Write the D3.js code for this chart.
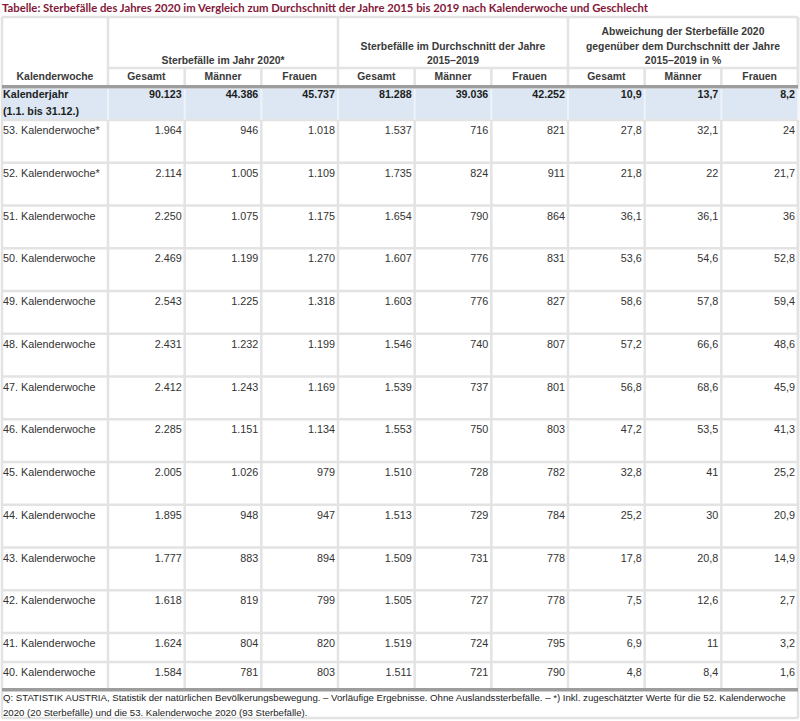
<!DOCTYPE html>
<html>
<head>
<meta charset="utf-8">
<script src="https://cdn.jsdelivr.net/npm/d3@7"></script>
<style>
  body { margin: 0; background: #fff; }
  svg { display: block; }
</style>
</head>
<body>
<svg id="table"></svg>
<script>
// data (Statistik Austria, weeks 53 down to 40)
let weeks = ["53. Kalenderwoche*", "52. Kalenderwoche*", "51. Kalenderwoche", "50. Kalenderwoche",
  "49. Kalenderwoche", "48. Kalenderwoche", "47. Kalenderwoche", "46. Kalenderwoche",
  "45. Kalenderwoche", "44. Kalenderwoche", "43. Kalenderwoche", "42. Kalenderwoche",
  "41. Kalenderwoche", "40. Kalenderwoche"];
let total2020 = [1964, 2114, 2250, 2469, 2543, 2431, 2412, 2285, 2005, 1895, 1777, 1618, 1624, 1584];
let men2020 = [946, 1005, 1075, 1199, 1225, 1232, 1243, 1151, 1026, 948, 883, 819, 804, 781];
let women2020 = [1018, 1109, 1175, 1270, 1318, 1199, 1169, 1134, 979, 947, 894, 799, 820, 803];
let totalAvg = [1537, 1735, 1654, 1607, 1603, 1546, 1539, 1553, 1510, 1513, 1509, 1505, 1519, 1511];
let menAvg = [716, 824, 790, 776, 776, 740, 737, 750, 728, 729, 731, 727, 724, 721];
let womenAvg = [821, 911, 864, 831, 827, 807, 801, 803, 782, 784, 778, 778, 795, 790];
let devTotal = [27.8, 21.8, 36.1, 53.6, 58.6, 57.2, 56.8, 47.2, 32.8, 25.2, 17.8, 7.5, 6.9, 4.8];
let devMen = [32.1, 22, 36.1, 54.6, 57.8, 66.6, 68.6, 53.5, 41, 30, 20.8, 12.6, 11, 8.4];
let devWomen = [24, 21.7, 36, 52.8, 59.4, 48.6, 45.9, 41.3, 25.2, 20.9, 14.9, 2.7, 3.2, 1.6];
let yearRow = [90123, 44386, 45737, 81288, 39036, 42252, 10.9, 13.7, 8.2];

let groups = [
  ["Sterbefälle im Jahr 2020*"],
  ["Sterbefälle im Durchschnitt der Jahre", "2015–2019"],
  ["Abweichung der Sterbefälle 2020", "gegenüber dem Durchschnitt der Jahre", "2015–2019 in %"]
];
let subHeads = ["Gesamt", "Männer", "Frauen"];
let title = "Tabelle: Sterbefälle des Jahres 2020 im Vergleich zum Durchschnitt der Jahre 2015 bis 2019 nach Kalenderwoche und Geschlecht";
let note = [
  "Q: STATISTIK AUSTRIA, Statistik der natürlichen Bevölkerungsbewegung. – Vorläufige Ergebnisse. Ohne Auslandssterbefälle. – *) Inkl. zugeschätzter Werte für die 52. Kalenderwoche",
  "2020 (20 Sterbefälle) und die 53. Kalenderwoche 2020 (93 Sterbefälle)."
];

let width = 800;
let height = 721;
let font = "'Liberation Sans', Arial, sans-serif";
let lineColor = '#e3e3e3';
let darkLine = '#9d9d9d';

let locale = d3.formatLocale({ decimal: ",", thousands: ".", grouping: [3], currency: ["", " €"] });
let fmtInt = locale.format(",d");
let fmtPct = locale.format(",.1~f");

let columns = [total2020, men2020, women2020, totalAvg, menAvg, womenAvg, devTotal, devMen, devWomen];
let fmtCol = (c, v) => c >= 6 ? fmtPct(v) : fmtInt(v);

let svg = d3.select('#table').attr('width', width).attr('height', height);

// column scale: first column is the label, then 9 equal value columns
let left = 2, labelRight = 108, right = 798;
let x = d3.scaleBand().domain(d3.range(9)).range([labelRight, right]).paddingInner(0);

// row layout
let tableTop = 17, subTop = 68, headBottom = 86, yearTop = 89, bodyTop = 120;
let rowH = (i) => i < 12 ? 42.75 : (i === 12 ? 29 : 26);
let rowTops = [];
let acc = bodyTop;
weeks.forEach((w, i) => { rowTops.push(acc); acc += rowH(i); });
let bodyBottom = acc;

// title
svg.append('text')
  .attr('x', 2).attr('y', 12)
  .attr('font-family', "Lato, 'Open Sans', sans-serif")
  .attr('font-weight', 'bold')
  .attr('font-size', '11.5px')
  .attr('fill', '#84183a')
  .attr('textLength', 646)
  .attr('lengthAdjust', 'spacingAndGlyphs')
  .text(title);

// blue year row
svg.append('rect')
  .attr('x', left).attr('y', yearTop)
  .attr('width', right - left).attr('height', bodyTop - yearTop)
  .attr('fill', '#dce7f3');

let lines = svg.append('g').attr('stroke', lineColor).attr('stroke-width', 2.5);

// outer/top border
lines.append('line').attr('x1', left).attr('x2', right).attr('y1', tableTop).attr('y2', tableTop);
lines.append('line').attr('x1', left).attr('x2', left).attr('y1', tableTop).attr('y2', height - 3);
lines.append('line').attr('x1', right).attr('x2', right).attr('y1', tableTop).attr('y2', height - 3);
// line under the group headings
lines.append('line').attr('x1', labelRight).attr('x2', right).attr('y1', subTop).attr('y2', subTop);

// vertical lines
d3.range(10).forEach(c => {
  let xv = c === 9 ? right : x(c);
  let isGroup = c % 3 === 0;
  lines.append('line')
    .attr('x1', xv).attr('x2', xv)
    .attr('y1', isGroup ? tableTop : subTop).attr('y2', headBottom);
  lines.append('line')
    .attr('x1', xv).attr('x2', xv)
    .attr('y1', bodyTop).attr('y2', bodyBottom);
  svg.append('line')
    .attr('x1', xv).attr('x2', xv)
    .attr('y1', yearTop).attr('y2', bodyTop)
    .attr('stroke', '#eef3f9').attr('stroke-width', 2);
});

// horizontal row lines
rowTops.forEach(t => {
  lines.append('line').attr('x1', left).attr('x2', right).attr('y1', t).attr('y2', t);
});
lines.append('line').attr('x1', left).attr('x2', right).attr('y1', height - 3).attr('y2', height - 3);

// thick grey rules
svg.append('rect').attr('x', left).attr('y', headBottom - 1).attr('width', right - left).attr('height', 3.5).attr('fill', darkLine);
svg.append('rect').attr('x', left).attr('y', bodyBottom).attr('width', right - left).attr('height', 3.5).attr('fill', darkLine);

// header text
let head = svg.append('g')
  .attr('font-family', font)
  .attr('font-weight', 'bold')
  .attr('font-size', '10.4px')
  .attr('fill', '#3a3a3a')
  .attr('text-anchor', 'middle');

groups.forEach((g, gi) => {
  let cx = (x(gi * 3) + (gi === 2 ? right : x(gi * 3 + 3))) / 2;
  g.forEach((t, li) => {
    head.append('text')
      .attr('x', cx)
      .attr('y', 64 - (g.length - 1 - li) * 14.5)
      .text(t);
  });
});

head.append('text').attr('x', (left + labelRight) / 2).attr('y', 80).text('Kalenderwoche');
d3.range(9).forEach(c => {
  head.append('text')
    .attr('x', x(c) + x.bandwidth() / 2)
    .attr('y', 80)
    .text(subHeads[c % 3]);
});

// year row
let yr = svg.append('g')
  .attr('font-family', font)
  .attr('font-weight', 'bold')
  .attr('font-size', '10.7px')
  .attr('fill', '#1e1e1e');
yr.append('text').attr('x', 3).attr('y', 98).text('Kalenderjahr');
yr.append('text').attr('x', 3).attr('y', 115).text('(1.1. bis 31.12.)');
yr.selectAll('text.num')
  .data(yearRow)
  .enter().append('text')
  .attr('class', 'num')
  .attr('x', (d, c) => x(c) + x.bandwidth() - 3)
  .attr('y', 98)
  .attr('text-anchor', 'end')
  .text((d, c) => fmtCol(c, d));

// body rows
let body = svg.append('g')
  .attr('font-family', font)
  .attr('font-size', '10.8px')
  .attr('fill', '#333');

let rows = body.selectAll('g.row')
  .data(weeks)
  .enter().append('g')
  .attr('class', 'row')
  .attr('transform', (d, i) => `translate(0, ${rowTops[i] + 14})`);

rows.append('text')
  .attr('x', 3)
  .text(d => d);

rows.each(function(d, i) {
  d3.select(this).selectAll('text.num')
    .data(columns.map(col => col[i]))
    .enter().append('text')
    .attr('class', 'num')
    .attr('x', (v, c) => x(c) + x.bandwidth() - 3)
    .attr('text-anchor', 'end')
    .text((v, c) => fmtCol(c, v));
});

// source note, sized so the first line ends near the right edge like the original
let noteG = svg.append('g')
  .attr('font-family', font)
  .attr('font-size', '10px')
  .attr('fill', '#222');
let noteText = noteG.selectAll('text')
  .data(note)
  .enter().append('text')
  .attr('x', 3)
  .attr('y', (d, i) => 701 + i * 15)
  .text(d => d);
let w0 = noteText.nodes()[0].getComputedTextLength();
noteG.attr('font-size', (10 * 783 / w0).toFixed(2) + 'px');
</script>
</body>
</html>
